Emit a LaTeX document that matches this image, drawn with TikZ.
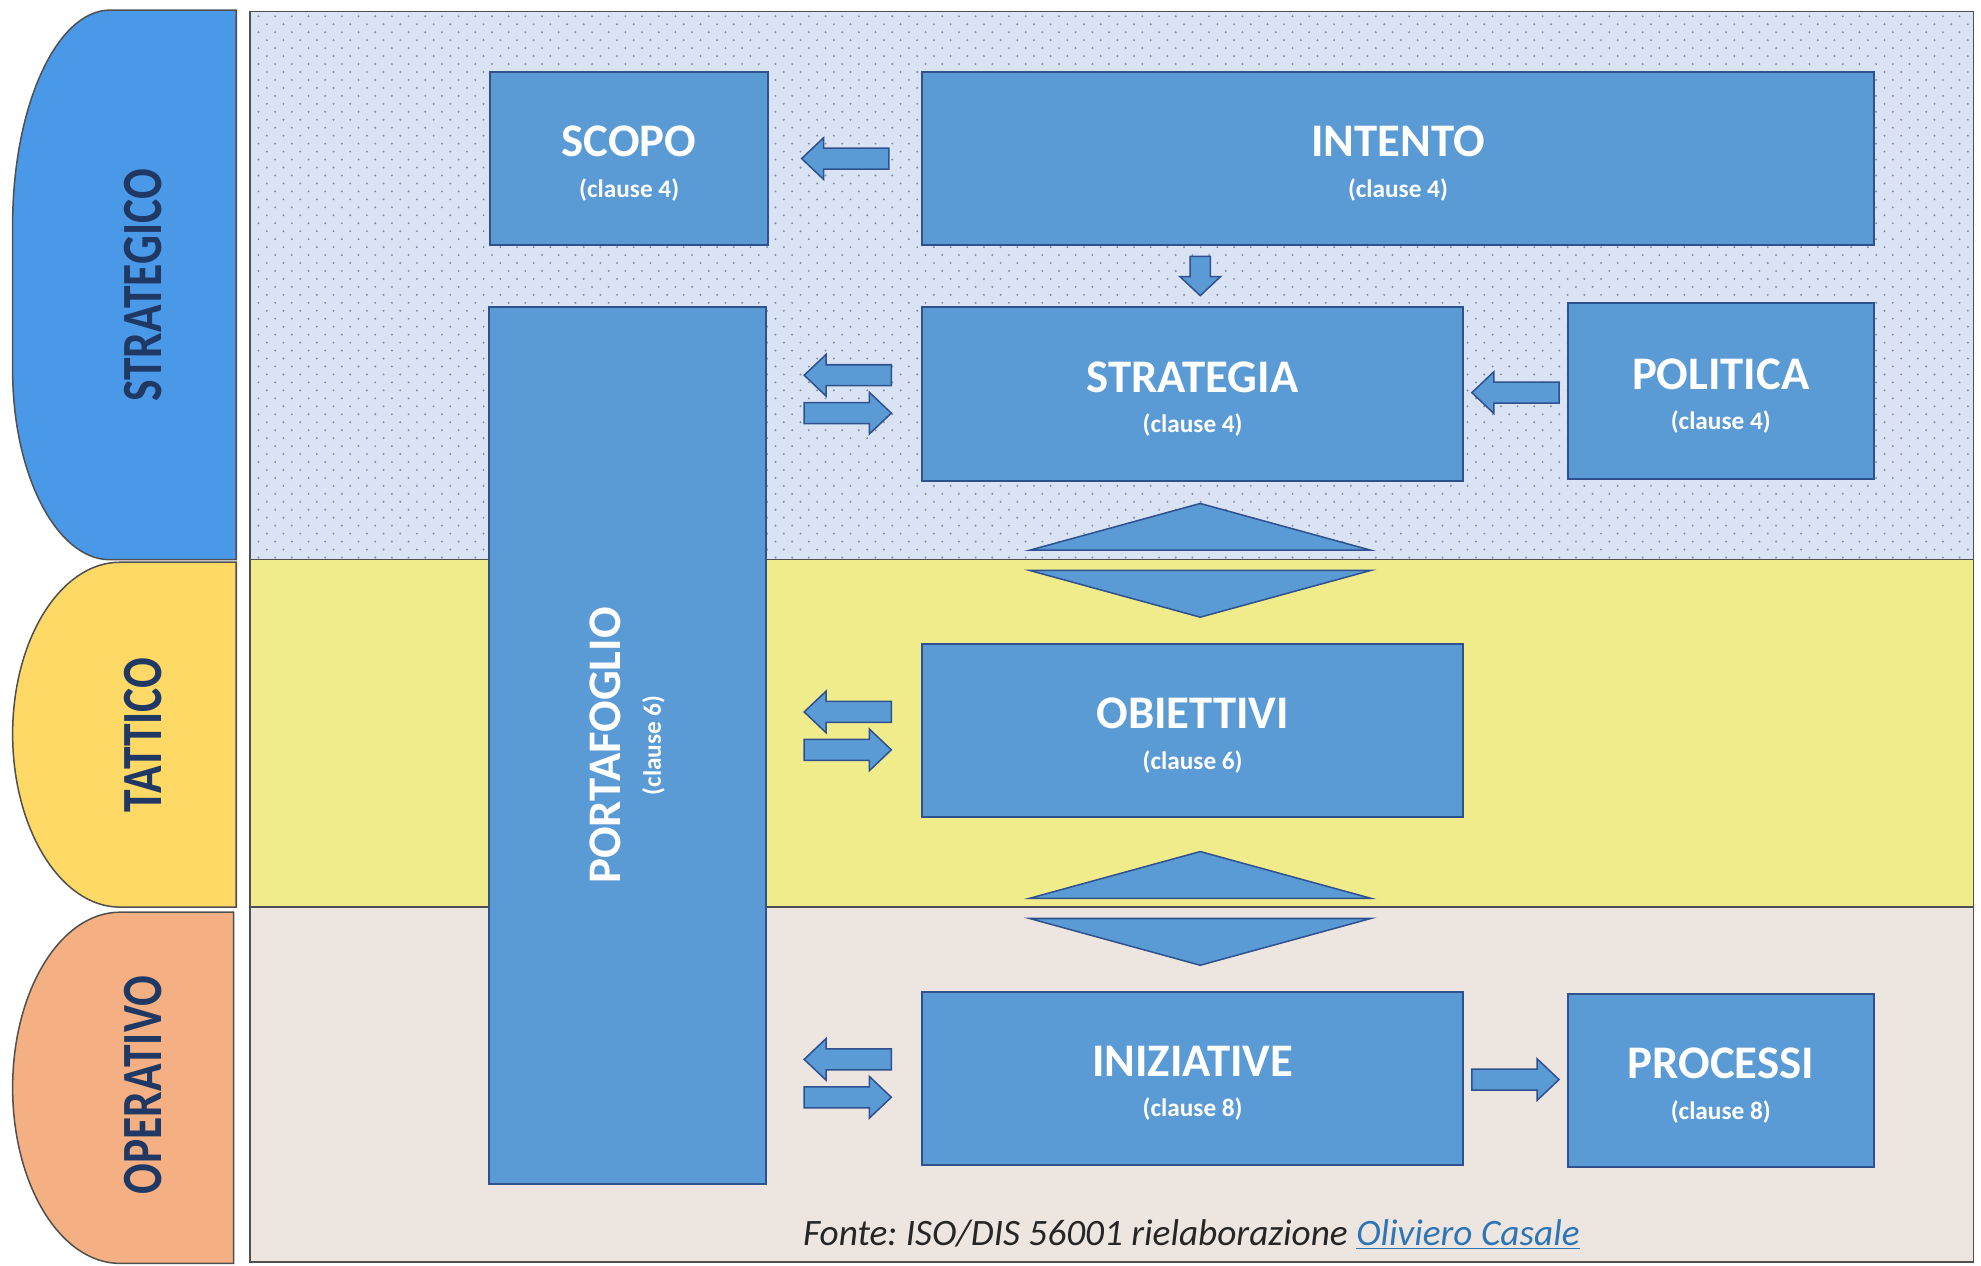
\documentclass[tikz,border=0pt]{standalone}
\usepackage{fontspec}
\setmainfont{Carlito}
\usepackage{graphicx}
\usepackage{tikz}
\usetikzlibrary{positioning,calc,patterns}
\usepackage{xcolor}
\definecolor{tabblue}{RGB}{74,152,232}
\definecolor{tabyellow}{RGB}{255,217,102}
\definecolor{taborange}{RGB}{244,176,130}
\definecolor{tabtext}{RGB}{32,56,100}
\definecolor{bandblue}{RGB}{218,227,243}
\definecolor{bandyellow}{RGB}{240,236,140}
\definecolor{bandrose}{RGB}{237,229,224}
\definecolor{boxfill}{RGB}{91,155,213}
\definecolor{boxline}{RGB}{47,82,143}
\definecolor{edgegrey}{RGB}{80,80,80}
\definecolor{dotgrey}{RGB}{128,140,165}
\definecolor{linkblue}{RGB}{46,117,182}
\definecolor{notetext}{RGB}{38,38,38}

\newcommand{\titlef}{\fontsize{37}{40}\selectfont\bfseries}
\newcommand{\clausef}{\fontsize{20}{24}\selectfont\bfseries}
\newcommand{\tabf}{\fontsize{36}{40}\selectfont\bfseries}
\newcommand{\notef}{\fontsize{29.5}{34}\selectfont\itshape\frenchspacing}
\newcommand{\boxlabel}[2]{\rule{0pt}{32pt}#1\\[-8pt]{\clausef (clause #2)}}

\pgfdeclarepatternformonly{stagdots}{\pgfqpoint{-1pt}{-1pt}}{\pgfqpoint{8pt}{8pt}}{\pgfqpoint{13.2pt}{12.6pt}}{%
    \pgfpathcircle{\pgfqpoint{0pt}{0pt}}{0.85pt}%
    \pgfpathcircle{\pgfqpoint{6.6pt}{6.3pt}}{0.85pt}%
    \pgfusepath{fill}}

\tikzset{
    box/.style={draw=boxline,line width=1.6pt,fill=boxfill,text=white,inner sep=0pt,align=center,font=\titlef},
    blockarr/.style={draw=boxline,line width=1.2pt,fill=boxfill,line join=miter},
    tabshape/.style={draw=edgegrey,line width=1.2pt},
    tablabel/.style={rotate=90,text=tabtext,font=\tabf,inner sep=0pt},
    rarr/.pic={\draw[blockarr] (-34.5,-8.3) -- (17.1,-8.3) -- (17.1,-16.5) -- (34.5,0) -- (17.1,16.5) -- (17.1,8.3) -- (-34.5,8.3) -- cycle;},
    darr/.pic={\draw[blockarr] (-8,-15.5) -- (8,-15.5) -- (8,0.5) -- (16,0.5) -- (0,15.5) -- (-16,0.5) -- (-8,0.5) -- cycle;},
    updown/.pic={\draw[blockarr] (0,-45) -- (135,-8) -- (-135,-8) -- cycle;
        \draw[blockarr] (-135,8) -- (135,8) -- (0,45) -- cycle;}
}

\begin{document}
\begin{tikzpicture}[x=1pt,y=-1pt]
    \useasboundingbox (0,0) rectangle (1568,1002);

    \fill[bandblue] (198,9) rectangle (1562,443);
    \fill[pattern=stagdots,pattern color=dotgrey] (198,9) rectangle (1562,443);
    \fill[bandyellow] (198,443) rectangle (1562,718);
    \fill[bandrose] (198,718) rectangle (1562,999);
    \draw[edgegrey,line width=1.2pt] (198,443) -- (1562,443) (198,718) -- (1562,718);
    \draw[edgegrey,line width=1.2pt] (198,9) rectangle (1562,999);

    \draw[tabshape,fill=tabblue] (187,8) -- (87,8) .. controls (45,8) and (10,84) .. (10,178) -- (10,293) .. controls (10,376) and (45,443) .. (87,443) -- (187,443) -- cycle;
    \draw[tabshape,fill=tabyellow] (187,445) -- (95,445) .. controls (48,445) and (10,506) .. (10,581) .. controls (10,656) and (48,718) .. (95,718) -- (187,718) -- cycle;
    \draw[tabshape,fill=taborange] (185,722) -- (95,722) .. controls (48,722) and (10,784) .. (10,861) .. controls (10,938) and (48,1000) .. (95,1000) -- (185,1000) -- cycle;

    \node[tablabel] (strat) at (113,226) {\scalebox{1}[1.25]{STRATEGICO}};
    \node[tablabel] (tatt) at (113,582) {\scalebox{1}[1.25]{TATTICO}};
    \node[tablabel] (oper) at (113,859) {\scalebox{1}[1.25]{OPERATIVO}};

    \node[box,minimum width=220pt,minimum height=137pt] (scopo) at (498,125.5) {\boxlabel{SCOPO}{4}};
    \node[box,minimum width=753pt,minimum height=137pt] (intento) at (1106.5,125.5) {\boxlabel{INTENTO}{4}};
    \node[box,minimum width=428pt,minimum height=138pt] (strategia) at (944,312) {\boxlabel{STRATEGIA}{4}};
    \node[box,minimum width=242pt,minimum height=139pt] (politica) at (1362,309.5) {\boxlabel{POLITICA}{4}};
    \node[box,minimum width=428pt,minimum height=137pt] (obiettivi) at (944,578.5) {\boxlabel{OBIETTIVI}{6}};
    \node[box,minimum width=428pt,minimum height=137pt] (iniziative) at (944,853.5) {\boxlabel{INIZIATIVE}{8}};
    \node[box,minimum width=242pt,minimum height=137pt] (processi) at (1362,855.5) {\boxlabel{PROCESSI}{8}};

    \node[box,minimum width=219pt,minimum height=694pt] (portaf) at (496.5,590) {};
    \node[rotate=90,text=white,align=center,font=\titlef,inner sep=0pt] (portaftxt) at (portaf.center) {PORTAFOGLIO\\[-8pt]{\clausef (clause 6)}};

    \pic[rotate=180] at ($(scopo.east)!0.5!(intento.west)$) {rarr};
    \pic[xshift=6pt] at ($(intento.south -| strategia.north)!0.5!(strategia.north)$) {darr};
    \pic[rotate=180] at ($(strategia.east)!0.5!(politica.west)$) {rarr};
    \pic at ($(iniziative.east)!0.5!(processi.west)$) {rarr};

    \pic[rotate=180] at ($(portaf.east |- strategia.west)!0.5!(strategia.west)+(3,-15)$) {rarr};
    \pic at ($(portaf.east |- strategia.west)!0.5!(strategia.west)+(3,15)$) {rarr};
    \pic[rotate=180] at ($(portaf.east |- obiettivi.west)!0.5!(obiettivi.west)+(3,-15)$) {rarr};
    \pic at ($(portaf.east |- obiettivi.west)!0.5!(obiettivi.west)+(3,15)$) {rarr};
    \pic[rotate=180] at ($(portaf.east |- iniziative.west)!0.5!(iniziative.west)+(3,-15)$) {rarr};
    \pic at ($(portaf.east |- iniziative.west)!0.5!(iniziative.west)+(3,15)$) {rarr};

    \pic at ($(strategia.south)!0.5!(obiettivi.north)+(6,-2)$) {updown};
    \pic at ($(obiettivi.south)!0.5!(iniziative.north)+(6,3)$) {updown};

    \node[text=notetext,font=\notef,inner sep=0pt] (fonte) at (943,977) {Fonte: ISO/DIS 56001 rielaborazione \textcolor{linkblue}{\underline{Oliviero Casale}}};
\end{tikzpicture}
\end{document}
